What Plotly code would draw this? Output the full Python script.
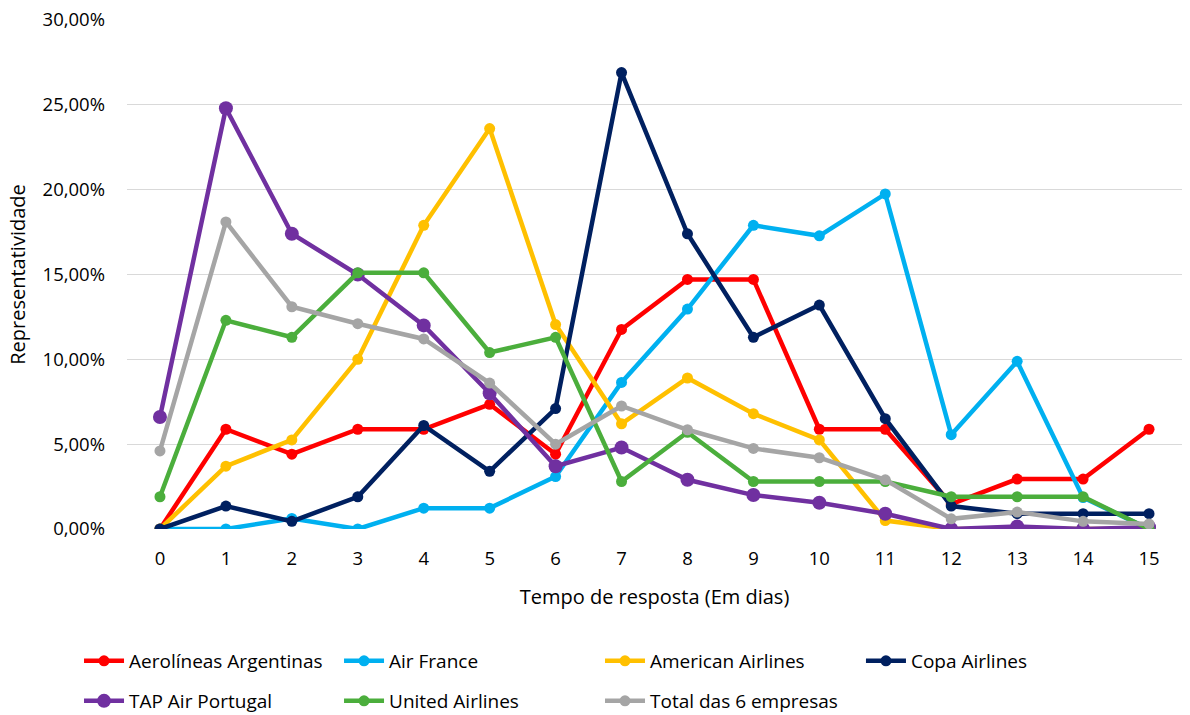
import plotly.graph_objects as go

dias = list(range(16))
tick_vals = [0, 5, 10, 15, 20, 25, 30]

aerolineas = [0, 5.88, 4.41, 5.88, 5.88, 7.35, 4.41, 11.76, 14.71, 14.71, 5.88, 5.88, 1.47, 2.94, 2.94, 5.88]
air_france = [0, 0, 0.62, 0, 1.23, 1.23, 3.09, 8.64, 12.96, 17.90, 17.28, 19.75, 5.56, 9.88, 1.85, 0]
american = [0, 3.70, 5.25, 10.0, 17.9, 23.6, 12.05, 6.2, 8.9, 6.8, 5.25, 0.5, 0, 0, 0, 0]
copa = [0, 1.35, 0.45, 1.9, 6.1, 3.4, 7.1, 26.9, 17.4, 11.3, 13.2, 6.5, 1.35, 0.9, 0.9, 0.9]
tap = [6.6, 24.8, 17.4, 15.0, 12.0, 8.0, 3.7, 4.8, 2.9, 2.0, 1.55, 0.9, 0, 0.15, 0, 0.1]
united = [1.9, 12.3, 11.3, 15.1, 15.1, 10.4, 11.3, 2.8, 5.7, 2.8, 2.8, 2.8, 1.9, 1.9, 1.9, 0]
total = [4.6, 18.1, 13.1, 12.1, 11.2, 8.6, 5.0, 7.25, 5.85, 4.75, 4.2, 2.9, 0.6, 1.0, 0.45, 0.3]

series = [
    ("Aerolíneas Argentinas", aerolineas, "#FF0000", 11),
    ("Air France", air_france, "#00B0F0", 11),
    ("American Airlines", american, "#FFC000", 11),
    ("Copa Airlines", copa, "#002060", 11),
    ("TAP Air Portugal", tap, "#7030A0", 14),
    ("United Airlines", united, "#4BAE3C", 11),
    ("Total das 6 empresas", total, "#A5A5A5", 11),
]

# legend placement (container coords)
leg_x = [0.0664, 0.2849, 0.5042, 0.7235, 0.0664, 0.2849, 0.5042]
leg_y = [0.0755, 0.0755, 0.0755, 0.0755, 0.0196, 0.0196, 0.0196]

font_family = "'Open Sans', Lato, sans-serif"

fig = go.Figure()
layout_legends = {}
for i, (name, vals, color, msize) in enumerate(series):
    lname = "legend" if i == 0 else f"legend{i+1}"
    fig.add_trace(go.Scatter(
        x=dias, y=[v / 100 for v in vals], name=name, mode="lines+markers",
        line=dict(color=color, width=4.5),
        marker=dict(color=color, size=msize),
        legend=lname,
    ))
    layout_legends[lname] = dict(
        x=leg_x[i], y=leg_y[i], xref="container", yref="container",
        xanchor="left", yanchor="middle",
        orientation="h", bgcolor="rgba(0,0,0,0)",
        font=dict(family=font_family, size=19, color="#000000"),
        itemwidth=40,
    )

fig.update_layout(
    width=1190, height=715,
    margin=dict(l=127, r=8, t=20, b=186, autoexpand=False),
    paper_bgcolor="white", plot_bgcolor="white",
    separators=",.",
    font=dict(family=font_family, size=18.5, color="#000000"),
    showlegend=True,
    xaxis=dict(
        range=[-0.5, 15.5], tickmode="array", tickvals=dias,
        ticktext=[str(d) for d in dias], showgrid=False, zeroline=False,
        showline=False, ticks="", ticklabelstandoff=16,
        title=dict(text="Tempo de resposta (Em dias)", standoff=21,
                   font=dict(family=font_family, size=20, color="#000000")),
        tickfont=dict(family=font_family, size=18.5, color="#000000"),
    ),
    yaxis=dict(
        range=[0, 0.30], tickmode="array", tickvals=[v / 100 for v in tick_vals],
        tickformat=".2%", showgrid=True, gridcolor="#D9D9D9", gridwidth=1.3,
        zeroline=False, showline=False, ticks="", ticklabelstandoff=21,
        title=dict(text="Representatividade", standoff=11,
                   font=dict(family=font_family, size=20, color="#000000")),
        tickfont=dict(family=font_family, size=18.5, color="#000000"),
    ),
    **layout_legends,
)

fig.write_html("out.html")
